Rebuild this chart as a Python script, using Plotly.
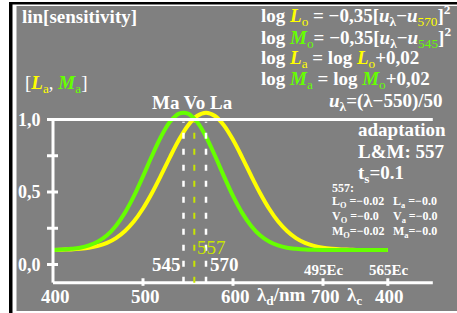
import plotly.graph_objects as go

# ---------------- data ----------------
wavelength = [400, 410, 420, 430, 440, 450, 460, 470, 480, 490, 500, 510, 520, 530, 540,
              550, 560, 570, 580, 590, 600, 610, 620, 630, 640, 650, 660, 670, 680, 690,
              700, 710, 720, 730, 740, 750, 760, 770, 772]
M_a = [0.100, 0.103, 0.108, 0.116, 0.132, 0.159, 0.202, 0.268, 0.358, 0.473, 0.608, 0.750,
       0.881, 0.984, 1.040, 1.040, 0.984, 0.881, 0.750, 0.608, 0.473, 0.358, 0.268, 0.202,
       0.159, 0.132, 0.116, 0.108, 0.103, 0.101, 0.100, 0.100, 0.100, 0.100, 0.100, 0.100,
       0.100, 0.100, 0.100]
L_a = [0.100, 0.102, 0.104, 0.108, 0.115, 0.128, 0.149, 0.182, 0.231, 0.298, 0.386, 0.493,
       0.614, 0.741, 0.860, 0.959, 1.024, 1.047, 1.024, 0.959, 0.860, 0.741, 0.614, 0.493,
       0.386, 0.298, 0.231, 0.182, 0.149, 0.128, 0.115, 0.108, 0.104, 0.102, 0.100, 0.100,
       0.100, 0.100, 0.100]
marker_lines = [545, 557, 570]
marker_colors = ["white", "#c8e600", "white"]
y_ticks = [0.0, 0.25, 0.5, 0.75, 1.0]
y_label_vals = [0.0, 0.5, 1.0]
y_label_text = ["0,0", "0,5", "1,0"]
x_ticks = [500, 600, 700, 772]
x_label_vals = [400, 500, 600, 700, 772]
x_label_text = ["400", "500", "600", "700", "400"]
ec_vals = [700, 772]
ec_text = ["495Ec", "565Ec"]

W, H = 457, 313
YEL = "#ffff00"
GRN = "#66ff00"
YG = "#c8e600"
GREY = "#808080"
FONT = "Liberation Serif"
FS = 19
FSS = 12

# axis mapping (px per unit)
PX_PER_NM = 0.9
PX_PER_UNIT = 145.0
X0 = 400 - 53 / PX_PER_NM
X1 = X0 + W / PX_PER_NM
Y_ZERO_PY = 264.5
Y1 = Y_ZERO_PY / PX_PER_UNIT
Y0 = (Y_ZERO_PY - H) / PX_PER_UNIT
AX_BOTTOM = -0.125
AX_RIGHT = 822

fig = go.Figure()

fig.add_trace(go.Scatter(x=wavelength, y=L_a, mode="lines", line=dict(color=YEL, width=4, shape="spline"),
                         hoverinfo="skip"))
fig.add_trace(go.Scatter(x=wavelength, y=M_a, mode="lines", line=dict(color=GRN, width=4, shape="spline"),
                         hoverinfo="skip"))

shapes = []
def pxr(px):
    return px / W
def pyr(py):
    return 1 - py / H

shapes.append(dict(type="rect", xref="paper", yref="paper", x0=pxr(16.5), x1=1.0, y0=pyr(311), y1=pyr(6),
                   fillcolor=GREY, line=dict(width=0), layer="below"))
shapes.append(dict(type="rect", xref="paper", yref="paper", x0=pxr(9), x1=1.0, y0=pyr(4.5), y1=pyr(2),
                   fillcolor="black", line=dict(width=0), layer="below"))
shapes.append(dict(type="rect", xref="paper", yref="paper", x0=pxr(9), x1=pxr(12.5), y0=0, y1=pyr(2),
                   fillcolor="black", line=dict(width=0), layer="below"))

# axes
shapes.append(dict(type="line", x0=400, x1=400, y0=AX_BOTTOM, y1=1.0, line=dict(color="white", width=3)))
shapes.append(dict(type="line", x0=400, x1=AX_RIGHT, y0=AX_BOTTOM, y1=AX_BOTTOM, line=dict(color="white", width=3)))
shapes.append(dict(type="line", x0=400, x1=AX_RIGHT, y0=1.0, y1=1.0, line=dict(color="white", width=3)))
for v in y_ticks:
    shapes.append(dict(type="line", x0=400 - 6 / PX_PER_NM, x1=400 + 5 / PX_PER_NM, y0=v, y1=v,
                       line=dict(color="white", width=3)))
for t in x_ticks:
    shapes.append(dict(type="line", x0=t, x1=t, y0=AX_BOTTOM - 0.022, y1=AX_BOTTOM + 0.03,
                       line=dict(color="white", width=3)))
for lam, col in zip(marker_lines, marker_colors):
    shapes.append(dict(type="line", x0=lam, x1=lam, y0=AX_BOTTOM, y1=0.985,
                       line=dict(color=col, width=2.5 if col == "white" else 2, dash="6px,10px")))

anns = []
K = 0.33
def text(s, px, base, size, anchor="left", color="white"):
    anns.append(dict(text=s, xref="paper", yref="paper", x=pxr(px), y=pyr(base - K * size),
                     xanchor=anchor, yanchor="middle", showarrow=False,
                     font=dict(family=FONT, size=size, color=color)))

def c(col, s):
    return f"<span style='color:{col}'>{s}</span>"
def cn(col, s):
    return f"<span style='color:{col};font-weight:normal'>{s}</span>"

text("<b>lin[sensitivity]</b>", 20, 22.7, FS)
text(f"<b>log {c(YEL,'<i>L</i>')}<sub>{cn(YEL,'o')}</sub> = −0,35[<i>u</i><sub>λ</sub>−<i>u</i><sub>{cn(YEL,'570')}</sub>]<sup>2</sup></b>", 259, 21.7, FS)
text(f"<b>log {c(GRN,'<i>M</i>')}<sub>{cn(GRN,'o')}</sub>= −0,35[<i>u</i><sub>λ</sub>−<i>u</i><sub>{cn(GRN,'545')}</sub>]<sup>2</sup></b>", 259, 43.3, FS)
text(f"<b>log {c(YEL,'<i>L</i>')}<sub>{cn(YEL,'a')}</sub> = log {c(YEL,'<i>L</i>')}<sub>{cn(YEL,'o')}</sub>+0,02</b>", 259, 65, FS)
text(f"<b>log {c(GRN,'<i>M</i>')}<sub>{cn(GRN,'a')}</sub> = log {c(GRN,'<i>M</i>')}<sub>{cn(GRN,'o')}</sub>+0,02</b>", 259, 86.7, FS)
text("<b><i>u</i><sub>λ</sub>=(λ−550)/50</b>", 445, 108.3, FS, anchor="right")
text(f"[{c(YEL,'<b><i>L</i></b>')}<sub>{c(YEL,'a')}</sub>, {c(GRN,'<b><i>M</i></b>')}<sub>{c(GRN,'a')}</sub>]", 23, 90.7, FS)
text("<b>Ma Vo La</b>", 192.5, 109, FS, anchor="center")
text("<b>adaptation</b>", 356, 136, FS)
text("<b>L&M: 557</b>", 356, 157.3, FS)
text("<b>t<sub>s</sub>=0.1</b>", 356, 180, FS)
text("<b>557:</b>", 330, 191.7, FSS)
text("<b>L<sub>O</sub> =−0.02</b>", 330, 206, FSS)
text("<b>V<sub>O</sub> =−0.0</b>", 330, 220.7, FSS)
text("<b>M<sub>O</sub>=−0.02</b>", 330, 236, FSS)
text("<b>L<sub>a</sub> =−0.0</b>", 391, 206, FSS)
text("<b>V<sub>a</sub> =−0.0</b>", 391, 220.7, FSS)
text("<b>M<sub>a</sub>=−0.0</b>", 391, 236, FSS)
text("<b>545</b>", 166, 270.7, FS, anchor="center")
text("<b>570</b>", 208, 270.7, FS)
text("557", 195, 254, FS, color=YG)
text("<b>λ<sub>d</sub>/nm</b>", 255, 302.7, FS)
text("<b>λ<sub>c</sub></b>", 345, 302.7, FS)

for v, s in zip(y_label_vals, y_label_text):
    anns.append(dict(text=f"<b>{s}</b>", xref="paper", yref="y", x=pxr(30), y=v, xanchor="center",
                     yanchor="middle", showarrow=False, font=dict(family=FONT, size=18, color="white")))
for v, s in zip(x_label_vals, x_label_text):
    anns.append(dict(text=f"<b>{s}</b>", xref="x", yref="paper", x=v, y=pyr(302.7 - K * FS), xshift=2,
                     xanchor="center", yanchor="middle", showarrow=False,
                     font=dict(family=FONT, size=FS, color="white")))
for v, s in zip(ec_vals, ec_text):
    anns.append(dict(text=f"<b>{s}</b>", xref="x", yref="paper", x=v, y=pyr(275 - K * 15), xshift=1,
                     xanchor="center", yanchor="middle", showarrow=False,
                     font=dict(family=FONT, size=15, color="white")))

fig.update_layout(width=W, height=H, margin=dict(l=0, r=0, t=0, b=0, pad=0), autosize=False,
                  paper_bgcolor="white", plot_bgcolor="rgba(0,0,0,0)",
                  xaxis=dict(range=[X0, X1], visible=False, fixedrange=True),
                  yaxis=dict(range=[Y0, Y1], visible=False, fixedrange=True),
                  showlegend=False, hovermode=False, shapes=shapes, annotations=anns,
                  font=dict(family=FONT))
fig.write_html("out.html", config={"displayModeBar": False},
               post_script="document.body.style.margin='0px';document.body.style.overflow='hidden';")
